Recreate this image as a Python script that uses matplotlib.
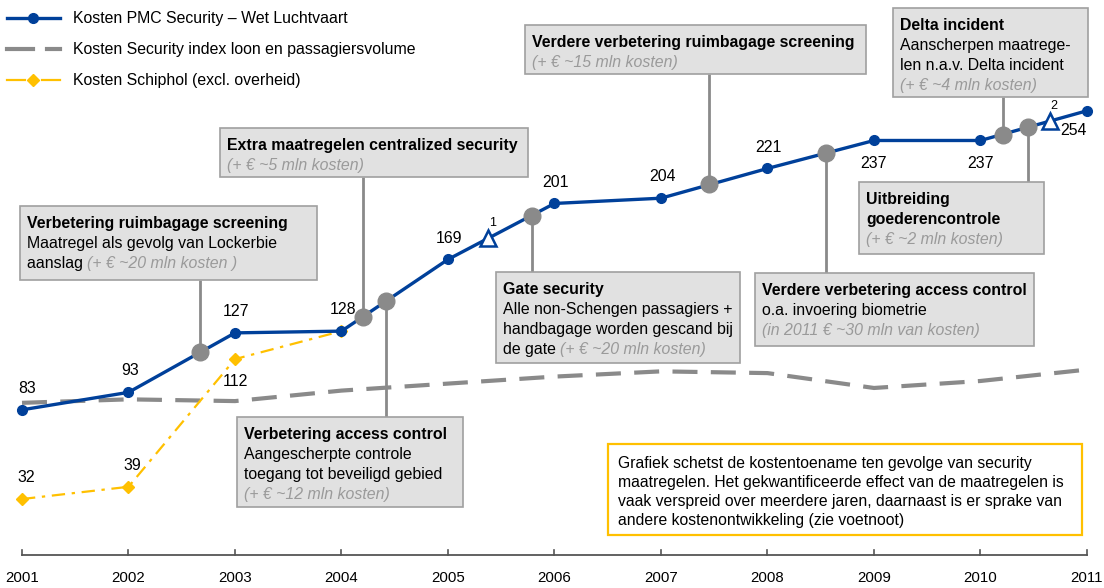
import numpy as np
import matplotlib
matplotlib.use("Agg")
import matplotlib.pyplot as plt
from matplotlib.patches import Rectangle
from matplotlib.lines import Line2D

plt.rcParams['font.family'] = ['Liberation Sans', 'DejaVu Sans']

# data
years = [2001, 2002, 2003, 2004, 2005, 2006, 2007, 2008, 2009, 2010, 2011]
pmc_kosten = [83, 93, 127, 128, 169, 201, 204, 221, 237, 237, 254]
index_kosten = [87, 89, 88, 94, 98, 102, 105, 104, 95.5, 99.5, 106]
schiphol_years = [2001, 2002, 2003, 2004]
schiphol_kosten = [32, 39, 112, 128]

# maatregelen (op de PMC lijn)
ev_year = [2002.67, 2004.20, 2004.42, 2005.79, 2007.45, 2008.55, 2010.21, 2010.45]
ev_val = [116, 136, 145, 194, 212, 230, 240, 244.5]
voetnoot_year = [2005.38, 2010.65]
voetnoot_val = [181, 248]
voetnoot_lbl = ['1', '2']

BLUE = '#00409a'
GREY = '#8a8a8a'
YEL = '#ffc000'
ITAL = '#9a9a9a'
FS = 11.4

# pixel -> data helpers (figure is 1104x588 px)
X0, PPY, Y0, PPV = 22, 106.5, 555, 1.749


def dx(px):
    return 2001 + (px - X0) / PPY


def dy(py):
    return (Y0 - py) / PPV


fig = plt.figure(figsize=(11.04, 5.88), dpi=100)
ax = fig.add_axes([0, 0, 1, 1])
ax.set_xlim(dx(0), dx(1104))
ax.set_ylim(dy(588), dy(0))
ax.axis('off')

# lines
ax.plot(years, index_kosten, color=GREY, lw=3, dashes=(6, 3.2), zorder=2)
ax.plot(schiphol_years, schiphol_kosten, color=YEL, lw=1.6,
        dashes=(6, 3, 1.5, 3), marker='D', ms=6, zorder=3)
ax.plot(years, pmc_kosten, color=BLUE, lw=2.4, marker='o', ms=7, zorder=4)

# value labels
for i, (x, v) in enumerate(zip(years, pmc_kosten)):
    if i in (8, 9):
        off, va = (0, -11), 'top'
    elif i == 10:
        off, va = (-10, -9), 'top'
    elif i == 0:
        off, va = (4, 10), 'bottom'
    else:
        off, va = (1, 10), 'bottom'
    ax.annotate(str(v), (x, v), xytext=off, textcoords='offset points',
                ha='center', va=va, fontsize=FS)
for i, (x, v) in enumerate(zip(schiphol_years, schiphol_kosten)):
    if i == 3:
        continue
    if i == 2:
        off, va = (0, -11), 'top'
    else:
        off, va = (3, 10), 'bottom'
    ax.annotate(str(v), (x, v), xytext=off, textcoords='offset points',
                ha='center', va=va, fontsize=FS)

ax.plot(voetnoot_year, voetnoot_val, ls='none', marker='^', ms=12,
        mfc='white', mec=BLUE, mew=1.8, zorder=5)
for x, v, t in zip(voetnoot_year, voetnoot_val, voetnoot_lbl):
    ax.annotate(t, (x, v), xytext=(3, 7), textcoords='offset points',
                ha='center', va='bottom', fontsize=9)

ax.plot(ev_year, ev_val, ls='none', marker='o', ms=12, color=GREY, zorder=6)

# boxes: (left, top, right, bottom) in px, edge the connector attaches to
boxes = [
    ((20, 206, 317, 280), 'bottom', [
        [("Verbetering ruimbagage screening", 'b')],
        [("Maatregel als gevolg van Lockerbie", 'n')],
        [("aanslag ", 'n'), ("(+ € ~20 mln kosten )", 'i')]]),
    ((220, 128, 528, 177), 'bottom', [
        [("Extra maatregelen centralized security", 'b')],
        [("(+ € ~5 mln kosten)", 'i')]]),
    ((237, 417, 463, 507), 'top', [
        [("Verbetering access control", 'b')],
        [("Aangescherpte controle", 'n')],
        [("toegang tot beveiligd gebied", 'n')],
        [("(+ € ~12 mln kosten)", 'i')]]),
    ((496, 272, 740, 363), 'top', [
        [("Gate security", 'b')],
        [("Alle non-Schengen passagiers +", 'n')],
        [("handbagage worden gescand bij", 'n')],
        [("de gate ", 'n'), ("(+ € ~20 mln kosten)", 'i')]]),
    ((525, 25, 866, 74), 'bottom', [
        [("Verdere verbetering ruimbagage screening", 'b')],
        [("(+ € ~15 mln kosten)", 'i')]]),
    ((755, 273, 1034, 346), 'top', [
        [("Verdere verbetering access control", 'b')],
        [("o.a. invoering biometrie", 'n')],
        [("(in 2011 € ~30 mln van kosten)", 'i')]]),
    ((893, 8, 1088, 97), 'bottom', [
        [("Delta incident", 'b')],
        [("Aanscherpen maatrege-", 'n')],
        [("len n.a.v. Delta incident", 'n')],
        [("(+ € ~4 mln kosten)", 'i')]]),
    ((859, 182, 1044, 254), 'top', [
        [("Uitbreiding", 'b')],
        [("goederencontrole", 'b')],
        [("(+ € ~2 mln kosten)", 'i')]]),
]

styles = {'b': dict(fontweight='bold', color='black'),
          'n': dict(color='black'),
          'i': dict(fontstyle='italic', color=ITAL)}

fig.canvas.draw()
rend = fig.canvas.get_renderer()


def write_line(px, py, parts, size=FS):
    for txt, st in parts:
        t = ax.text(dx(px), dy(py), txt, fontsize=size, ha='left',
                    va='baseline', zorder=9, **styles[st])
        w = t.get_window_extent(rend).width
        px += w


for (l, t, r, b), edge, lines in boxes:
    ax.add_patch(Rectangle((dx(l), dy(b)), dx(r) - dx(l), dy(t) - dy(b),
                           fc='#e1e1e1', ec='#a0a0a0', lw=1.2, zorder=8))
    for k, parts in enumerate(lines):
        write_line(l + 7, t + 22 + k * 20, parts)

for ((l, t, r, b), edge, lines), x, v in zip(boxes, ev_year, ev_val):
    yb = dy(b) if edge == 'bottom' else dy(t)
    ax.plot([x, x], [yb, v], color=GREY, lw=2, zorder=5.5, solid_capstyle='butt')

# notitie
ax.add_patch(Rectangle((dx(608), dy(535)), dx(1082) - dx(608), dy(444) - dy(535),
                       fc='white', ec=YEL, lw=1.6, zorder=8))
notitie = ["Grafiek schetst de kostentoename ten gevolge van security",
           "maatregelen. Het gekwantificeerde effect van de maatregelen is",
           "vaak verspreid over meerdere jaren, daarnaast is er sprake van",
           "andere kostenontwikkeling (zie voetnoot)"]
for k, line in enumerate(notitie):
    write_line(618, 468 + k * 19, [(line, 'n')], size=11.3)

# x-as
ax.plot([2001, 2011], [0, 0], color='#555555', lw=1.3, zorder=3)
for y in years:
    ax.plot([y, y], [0, 3], color='#555555', lw=1.2, zorder=3)
    ax.text(y, dy(578), str(y), ha='center', va='center', fontsize=10.8)

# legend
leg = ['Kosten PMC Security – Wet Luchtvaart',
       'Kosten Security index loon en passagiersvolume',
       'Kosten Schiphol (excl. overheid)']
ly = [18, 49, 80]
ax.add_line(Line2D([dx(7), dx(60)], [dy(18)] * 2, color=BLUE, lw=2.4))
ax.plot(dx(33), dy(18), marker='o', ms=7, color=BLUE)
ax.add_line(Line2D([dx(7), dx(33)], [dy(49)] * 2, color=GREY, lw=3))
ax.add_line(Line2D([dx(47), dx(60)], [dy(49)] * 2, color=GREY, lw=3))
ax.add_line(Line2D([dx(7), dx(25)], [dy(80)] * 2, color=YEL, lw=1.6))
ax.add_line(Line2D([dx(42), dx(60)], [dy(80)] * 2, color=YEL, lw=1.6))
ax.plot(dx(33), dy(80), marker='D', ms=6, color=YEL)
for txt, y in zip(leg, ly):
    ax.text(dx(73), dy(y), txt, ha='left', va='center', fontsize=FS)

fig.savefig('out.png', dpi=100)
